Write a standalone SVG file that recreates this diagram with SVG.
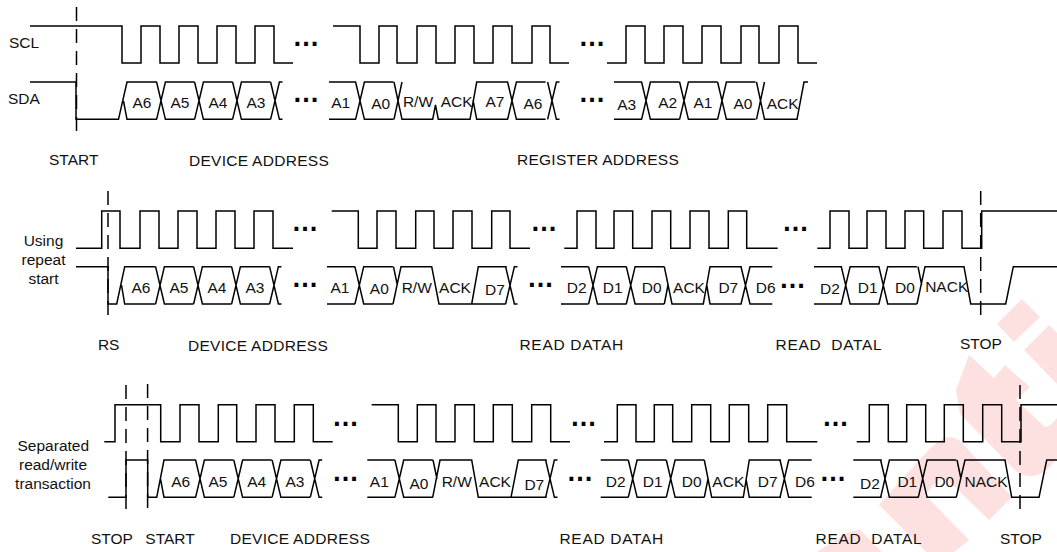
<svg xmlns="http://www.w3.org/2000/svg" width="1057" height="552" viewBox="0 0 1057 552">
<style>
text{font-family:"Liberation Sans",Arial,sans-serif;font-size:15.5px;fill:#111;text-anchor:middle}
text.d{font-size:27px;font-weight:bold;text-anchor:start;fill:#000}
text.h1{letter-spacing:.28px}
text.h2{letter-spacing:.68px}
path.s,use{fill:none;stroke:#000;stroke-width:1.5}
path.dash{fill:none;stroke:#000;stroke-width:1.5;stroke-dasharray:14 8}
.wm{fill:#fde1e1}
</style>
<defs>
<path id="cell" d="M-4.4,0L4.4,37.3H33.6M-4.4,37.3L4.4,0H33.6"/>
<path id="stub" d="M-4.4,0L4.4,37.3H7.5M-4.4,37.3L4.4,0H7.5"/>
</defs>
<rect width="1057" height="552" fill="#fff"/>
<g id="watermark" class="wm">
<path d="M1022,299L1040,317L1014,342L997,324Z"/>
<path d="M1049,325L1057,333V384L1024,350Z"/>
<path d="M969,355L994,378L1005,365L1030,387L1016,400L1045,427Q1050,427 1057,418V458Q1045,476 1030,476Q1018,476 1010,465L960,414L956,390Z"/>
<path d="M879,505L924,455Q940,437 950,437Q958,438 964,445L1012,497L989,520L955,487Q942,474 936,482L925,495L969,540L954,552H926Z"/>
<path d="M817,552L845,534Q853,530 860,530L882,552Z"/>
</g>
<g id="row1">
<g id="row1-dashes"><path class="dash" d="M76.5,7V138"/></g>
<g id="row1-scl"><path class="s" d="M30,26H122V63H141V26H160V63H179V26H198V63H217V26H236V63H255V26H274V63H293"/>
<path class="s" d="M333,26H360V63H379V26H397V63H417V26H436V63H455V26H474V63H493V26H512V63H532V26H550V63H569"/>
<path class="s" d="M607,63H626V26H645V63H664V26H683V63H702V26H721V63H741V26H759V63H779V26H798V63H817"/></g>
<g id="row1-sda">
<path class="s" d="M30,82H76V119.3H118.5L127,82H157M123.5,101L127,119.3H157"/>
<use href="#cell" x="161" y="82"/><use href="#cell" x="199" y="82"/><use href="#cell" x="237" y="82"/><use href="#stub" x="275" y="82"/>
<path class="s" d="M329,82H356M329,119.3H356"/>
<use href="#cell" x="360" y="82"/>
<path class="s" d="M394,82L402,119.3H432.7L435.5,105L438.3,119.3H470L476.7,82H508M394,119.3L402,82M473,100L476.7,119.3H508"/>
<use href="#cell" x="512" y="82"/><use href="#stub" x="552" y="82"/>
<path class="s" d="M614,82H642M614,119.3H642"/>
<use href="#cell" x="646" y="82"/><use href="#cell" x="684" y="82"/><use href="#cell" x="722" y="82"/>
<path class="s" d="M756.5,82L764.5,119.3H797L804,82H808M756.5,119.3L764.5,82"/>
</g>
<g id="row1-text">
<text x="9" y="47.7" style="text-anchor:start">SCL</text><text x="8" y="104" style="text-anchor:start">SDA</text>
<text class="d" x="292.5" y="46">…</text><text class="d" x="292.5" y="102">…</text>
<text class="d" x="578.5" y="46">…</text><text class="d" x="578.5" y="102">…</text>
<text x="142" y="107.7">A6</text><text x="180" y="107.7">A5</text><text x="218" y="107.7">A4</text><text x="256" y="107.7">A3</text>
<text x="340.7" y="107.7">A1</text><text x="380.7" y="109">A0</text><text x="418" y="107">R/W</text><text x="456.7" y="107">ACK</text><text x="495" y="107">A7</text><text x="533" y="109">A6</text>
<text x="626.7" y="110">A3</text><text x="667.7" y="108">A2</text><text x="703" y="108">A1</text><text x="743" y="109">A0</text><text x="782.7" y="109">ACK</text>
<text x="73.7" y="165">START</text><text class="h1" x="259" y="165.5">DEVICE ADDRESS</text><text class="h1" x="598" y="165">REGISTER ADDRESS</text>
</g>
</g>
<g id="row2">
<g id="row2-dashes"><path class="dash" d="M108,191V323M980.7,191V323"/></g>
<g id="row2-scl"><path class="s" d="M76,248.3H101.7V211H120V248.3H140V211H159V248.3H178V211H197V248.3H216V211H235V248.3H254V211H273V248.3H293"/>
<path class="s" d="M331.7,211H358.3V248.3H377V211H396V248.3H415.7V211H434V248.3H453V211H472V248.3H491.7V211H510V248.3H530"/>
<path class="s" d="M564.3,248.3H577V211H596V248.3H614V211H632.7V248.3H652V211H670.7V248.3H690V211H709V248.3H728.3V211H746.7V248.3H777.7"/>
<path class="s" d="M817.3,248.3H830V211H849V248.3H867V211H886V248.3H905V211H923.7V248.3H943V211H962V248.3H981.7V211H1057"/></g>
<g id="row2-sda">
<path class="s" d="M76,266.7H108V304H116.7L124.7,266.7H155.6M121.5,285L124.7,304H155.6"/>
<use href="#cell" x="160" y="266.7"/><use href="#cell" x="198" y="266.7"/><use href="#cell" x="236" y="266.7"/><use href="#stub" x="274" y="266.7"/>
<path class="s" d="M327,266.7H355M327,304H355"/>
<use href="#cell" x="359.3" y="266.7"/>
<path class="s" d="M393,304L401,266.7H431.7L439,304H505.7M393.5,266.7L397.3,285M471.7,304L478.3,266.7H506.7"/>
<use href="#stub" x="510" y="266.7"/>
<path class="s" d="M561,266.7H588.5M561,304H588.5"/>
<use href="#cell" x="593" y="266.7"/><use href="#cell" x="630.7" y="266.7"/>
<path class="s" d="M664.3,266.7L672,304H703.3L710,266.7H741.7M664.3,304L668,285M706.7,285L710,304H741.7M741,266.7L750,304H772.3M741,304L750,266.7H772.3"/>
<path class="s" d="M814,266.7H842M814,304H842"/>
<use href="#cell" x="845.7" y="266.7"/><use href="#cell" x="883.3" y="266.7"/>
<path class="s" d="M917,304L925,266.7H964L970.7,304H1005.7L1013.3,266.7H1057M918,266.7L921.7,285"/>
</g>
<g id="row2-text">
<text x="43.5" y="246">Using</text><text x="43.5" y="265">repeat</text><text x="43.5" y="284">start</text>
<text class="d" x="291.5" y="231.3">…</text><text class="d" x="291.5" y="287.3">…</text>
<text class="d" x="530.5" y="231.3">…</text><text class="d" x="527" y="287.3">…</text>
<text class="d" x="782" y="231.3">…</text><text class="d" x="779" y="288">…</text>
<text x="141" y="292.7">A6</text><text x="179" y="292.7">A5</text><text x="217" y="292.7">A4</text><text x="255" y="292.7">A3</text>
<text x="340" y="292.7">A1</text><text x="379.3" y="294">A0</text><text x="416.7" y="292.7">R/W</text><text x="455" y="292.7">ACK</text><text x="495" y="295">D7</text>
<text x="576.7" y="292.7">D2</text><text x="612.7" y="292.7">D1</text><text x="651.7" y="293">D0</text><text x="689" y="292.7">ACK</text><text x="728.3" y="292.7">D7</text><text x="765.7" y="292.7">D6</text>
<text x="830" y="294.3">D2</text><text x="867.7" y="293">D1</text><text x="905" y="293">D0</text><text x="946.7" y="291.7">NACK</text>
<text x="108.7" y="350">RS</text><text class="h1" x="258" y="350.5">DEVICE ADDRESS</text><text class="h2" x="571.7" y="350">READ DATAH</text><text class="h2" x="829" y="350" xml:space="preserve">READ  DATAL</text><text x="981" y="349">STOP</text>
</g>
</g>
<g id="row3">
<g id="row3-dashes"><path class="dash" d="M126,385V517M147.6,384V516M1020,385V516"/></g>
<g id="row3-scl"><path class="s" d="M104.3,441.7H115V404.7H160.7V441.7H180V404.7H199V441.7H218.3V404.7H236.7V441.7H256V404.7H275V441.7H294.3V404.7H313.3V441.7H332.7"/>
<path class="s" d="M371.7,404.7H398.3V441.7H417.3V404.7H436V441.7H455V404.7H474.3V441.7H493.3V404.7H512.3V441.7H531.7V404.7H550.7V441.7H570"/>
<path class="s" d="M604,441.7H617.3V404.7H636V441.7H654.3V404.7H672.7V441.7H691.7V404.7H710.7V441.7H729.3V404.7H748.7V441.7H767.7V404.7H786.7V441.7H817.3"/>
<path class="s" d="M856.7,441.7H869.3V404.7H888.3V441.7H906.7V404.7H925.7V441.7H944.3V404.7H963.3V441.7H982.7V404.7H1001.7V441.7H1021V404.7H1057"/></g>
<g id="row3-sda">
<path class="s" d="M108.3,497.3H126V460H147.7V497.3H156.7L164,460H196M160.5,479L164,497.3H196"/>
<use href="#cell" x="200" y="460"/><use href="#cell" x="238.2" y="460"/><use href="#cell" x="276.5" y="460"/><use href="#stub" x="314.7" y="460"/>
<path class="s" d="M367.3,460H395M367.3,497.3H395"/>
<use href="#cell" x="399.3" y="460"/>
<path class="s" d="M432.7,497.3L440,460H471.7L478.3,497.3H546.7M433,460L437,479M511,497.3L518.3,460H546.7"/>
<use href="#stub" x="550" y="460"/>
<path class="s" d="M600.7,460H628.3M600.7,497.3H628.3"/>
<use href="#cell" x="632.7" y="460"/><use href="#cell" x="670.7" y="460"/>
<path class="s" d="M704.3,460L711.7,497.3H743.3L749.3,460H781M704.3,497.3L708,479M746,479L749.3,497.3H781M780,460L788.7,497.3H811.7M780,497.3L788.7,460H811.7"/>
<path class="s" d="M853.3,460H881.7M853.3,497.3H881.7"/>
<use href="#cell" x="885" y="460"/><use href="#cell" x="922.7" y="460"/>
<path class="s" d="M956.3,497.3L965,460H1005L1011.7,497.3H1039L1046.7,460H1057M957,460L961,479"/>
</g>
<g id="row3-text">
<text x="53.3" y="451.3">Separated</text><text x="53" y="470.3">read/write</text><text x="53" y="489.3">transaction</text>
<text class="d" x="332" y="425.7">…</text><text class="d" x="332" y="481.3">…</text>
<text class="d" x="570" y="425.7">…</text><text class="d" x="566.5" y="481.3">…</text>
<text class="d" x="822" y="425.7">…</text><text class="d" x="819.5" y="481.3">…</text>
<text x="180.7" y="487">A6</text><text x="218" y="487">A5</text><text x="256.7" y="487">A4</text><text x="295" y="487">A3</text>
<text x="379.3" y="487">A1</text><text x="419" y="488.7">A0</text><text x="456.7" y="487">R/W</text><text x="495" y="487">ACK</text><text x="534.3" y="489.7">D7</text>
<text x="615.7" y="487">D2</text><text x="652.7" y="487">D1</text><text x="691.7" y="487">D0</text><text x="728.3" y="487">ACK</text><text x="767.7" y="487">D7</text><text x="805" y="487">D6</text>
<text x="870" y="488.5">D2</text><text x="907.3" y="487">D1</text><text x="944.3" y="487">D0</text><text x="986" y="486.5">NACK</text>
<text x="112" y="544.3">STOP</text><text x="170" y="544.3">START</text><text class="h1" x="300" y="544.3">DEVICE ADDRESS</text><text class="h2" x="611.7" y="544.3">READ DATAH</text><text class="h2" x="869" y="544.3" xml:space="preserve">READ  DATAL</text><text x="1021" y="544">STOP</text>
</g>
</g>
</svg>
